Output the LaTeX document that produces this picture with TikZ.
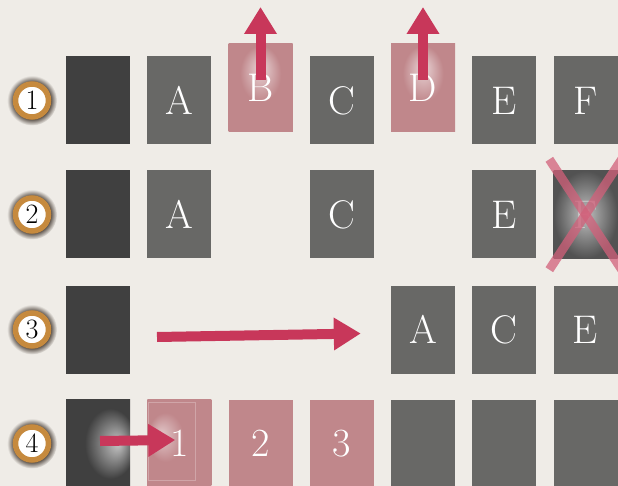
\documentclass[tikz,border=0pt]{standalone}
\usetikzlibrary{positioning, arrows.meta}
\definecolor{paper}{HTML}{EFECE7}
\definecolor{cardgray}{HTML}{686866}
\definecolor{carddark}{HTML}{404040}
\definecolor{cardpink}{HTML}{C0878B}
\definecolor{movered}{HTML}{C8375A}
\definecolor{crossred}{HTML}{D2607A}
\definecolor{rimgold}{HTML}{C68A3E}
\definecolor{rimbrown}{HTML}{4E443C}
\pgfdeclareradialshading{halo}{\pgfpoint{0bp}{0bp}}{color(0bp)=(rimbrown); color(18bp)=(rimbrown); color(25bp)=(paper); color(50bp)=(paper)}
\pgfdeclareradialshading{pinkglow}{\pgfpoint{0bp}{12bp}}{color(0bp)=(cardpink!35!white); color(16bp)=(cardpink); color(50bp)=(cardpink)}
\pgfdeclareradialshading{pinkglowleft}{\pgfpoint{-15bp}{5bp}}{color(0bp)=(cardpink!45!white); color(14bp)=(cardpink); color(50bp)=(cardpink)}
\pgfdeclareradialshading{darkglow}{\pgfpoint{16bp}{0bp}}{color(0bp)=(carddark!30!white); color(20bp)=(carddark); color(50bp)=(carddark)}

\begin{document}
\begin{tikzpicture}[x=1pt, y=-1pt,
    card/.style={fill=cardgray, minimum width=64pt, minimum height=88pt, inner sep=0pt,
        text=white, font=\fontsize{40}{40}\selectfont},
    darkcard/.style={card, fill=carddark},
    pinkcard/.style={card, fill=cardpink},
    badge/.style={circle, fill=white, draw=rimgold, line width=5.5pt, minimum size=33pt,
        inner sep=0pt, font=\fontsize{28}{28}\selectfont},
    move/.style={movered, line width=10pt, -{Triangle[length=27pt 0, width=31pt 0]}},
    cross/.style={crossred, line width=9pt, opacity=0.75}]
    \path[use as bounding box, fill=paper] (0,0) rectangle (618,486);

    \foreach \n/\y in {1/100.5, 2/214.5, 3/329.5, 4/443.5} {
        \shade[shading=halo] (32,\y) circle (25);
        \node[badge] (n\n) at (32,\y) {\n};
    }

    \node[darkcard] (d1) at (98,100.5) {};
    \node[card] (a1) at (179.25,100.5) {A};
    \node[pinkcard, shade, shading=pinkglow] (b1) at (260.5,88) {B};
    \node[card] (c1) at (341.75,100.5) {C};
    \node[pinkcard, shade, shading=pinkglow] (dd1) at (423,88) {D};
    \node[card] (e1) at (504.25,100.5) {E};
    \node[card] (f1) at (585.5,100.5) {F};

    \node[darkcard] (d2) at (98,214.5) {};
    \node[card] (a2) at (179.25,214.5) {A};
    \node[card] (c2) at (341.75,214.5) {C};
    \node[card] (e2) at (504.25,214.5) {E};
    \node[card, inner color=black!25, outer color=black!68, text opacity=0.45] (f2) at (585.5,214.5) {F};

    \node[darkcard] (d3) at (98,329.5) {};
    \node[card] (a3) at (423,329.5) {A};
    \node[card] (c3) at (504.25,329.5) {C};
    \node[card] (e3) at (585.5,329.5) {E};

    \node[darkcard, shade, shading=darkglow] (d4) at (98,443.5) {};
    \node[pinkcard, shade, shading=pinkglowleft] (p1) at (179.25,443.5) {1};
    \node[pinkcard] (p2) at (260.5,443.5) {2};
    \node[pinkcard] (p3) at (341.75,443.5) {3};
    \node[card] (g4) at (423,443.5) {};
    \node[card] (g5) at (504.25,443.5) {};
    \node[card] (g6) at (585.5,443.5) {};
    \draw[cardpink!75!white, line width=0.6pt]
        ([shift={(1,3)}]p1.north west) rectangle ([shift={(-16,-7)}]p1.south east);

    \draw[cross] ([shift={(-4,-11)}]f2.north west) -- ([shift={(4,11)}]f2.south east);
    \draw[cross] ([shift={(-4,11)}]f2.south west) -- ([shift={(4,-11)}]f2.north east);

    \coordinate (bOut) at (260.5,7);
    \coordinate (dOut) at (423,7);
    \coordinate (slide) at (157,337);
    \draw[move] ([yshift=8pt]b1.center) -- (bOut);
    \draw[move] ([yshift=8pt]dd1.center) -- (dOut);
    \draw[move] (slide) -- ([xshift=-30pt, yshift=-4pt]a3.west);
    \draw[move] ([xshift=2pt, yshift=2.5pt]d4.center) -- ([xshift=-4pt, yshift=3.5pt]p1.center);
\end{tikzpicture}
\end{document}
